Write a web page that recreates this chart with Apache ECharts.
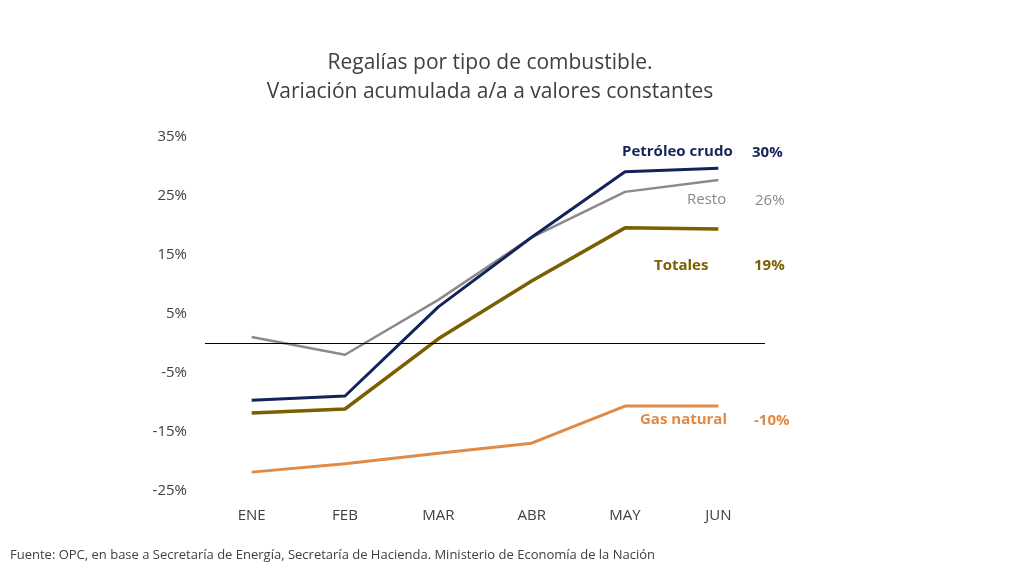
<!DOCTYPE html><html><head><meta charset="utf-8">
<script src="https://cdn.jsdelivr.net/npm/echarts@6/dist/echarts.min.js"></script>
<style>body{margin:0}#c{width:1024px;height:576px}</style></head><body><div id="c"></div>
<script>
const categories=['ENE','FEB','MAR','ABR','MAY','JUN'];
const petroleo=[-9.6,-8.9,6.2,18.0,29.1,29.7];
const resto=[1.1,-1.9,7.4,18.0,25.7,27.7];
const totales=[-11.8,-11.1,0.8,10.6,19.6,19.4];
const gas=[-21.8,-20.4,-18.6,-16.9,-10.6,-10.6];
const endLabels=['30%','26%','19%','-10%'];
const yTicks={min:-25,max:35,interval:10};
const C={p:'#14245a',r:'#8a8a8a',t:'#7a6000',g:'#e08a46'};
const F='"Open Sans", sans-serif';
const chart=echarts.init(document.getElementById('c'));
const lbl=(x,y,t,col,bold)=>({type:'text',left:x,top:y,style:{text:t,fill:col,font:(bold?'bold ':'')+'15px '+F}});
chart.setOption({
 title:{text:'Regalías por tipo de combustible.\nVariación acumulada a/a a valores constantes',left:485,top:44,textAlign:'center',textStyle:{color:'#404040',fontSize:21,fontWeight:'normal',fontFamily:F,lineHeight:29}},
 grid:{left:205,right:259,top:137,bottom:85},
 xAxis:{type:'category',data:categories,axisLine:{show:false},axisTick:{show:false},axisLabel:{color:'#404040',fontSize:15,fontFamily:F,margin:17}},
 yAxis:{type:'value',min:yTicks.min,max:yTicks.max,interval:yTicks.interval,splitLine:{show:false},axisLabel:{color:'#404040',fontSize:15,fontFamily:F,formatter:'{value}%',margin:18}},
 series:[
  {type:'line',data:resto,symbol:'none',lineStyle:{color:C.r,width:2.5},markLine:{silent:true,symbol:'none',label:{show:false},lineStyle:{color:'#000',width:1,type:'solid'},data:[{yAxis:0}]}},
  {type:'line',data:gas,symbol:'none',lineStyle:{color:C.g,width:3}},
  {type:'line',data:totales,symbol:'none',lineStyle:{color:C.t,width:3.5}},
  {type:'line',data:petroleo,symbol:'none',lineStyle:{color:C.p,width:3}}
 ],
 graphic:[
  lbl(622,144,'Petróleo crudo',C.p,true),lbl(752,145,endLabels[0],C.p,true),
  lbl(687,192,'Resto',C.r,false),lbl(755,193,endLabels[1],C.r,false),
  lbl(654,258,'Totales',C.t,true),lbl(754,258,endLabels[2],C.t,true),
  lbl(640,412,'Gas natural',C.g,true),lbl(754,413,endLabels[3],C.g,true),
  {type:'text',left:10,top:549,style:{text:'Fuente: OPC, en base a Secretaría de Energía, Secretaría de Hacienda. Ministerio de Economía de la Nación',fill:'#404040',font:'13px '+F}}
 ]
});
</script></body></html>
